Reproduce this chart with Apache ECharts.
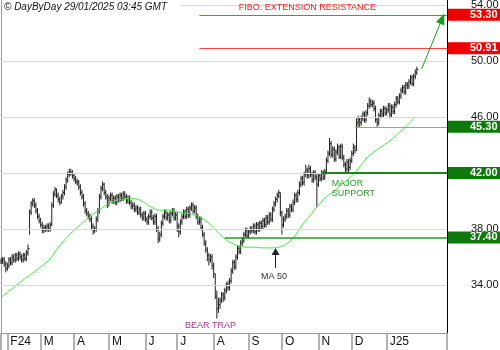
<!DOCTYPE html>
<html><head><meta charset="utf-8">
<script src="https://cdn.jsdelivr.net/npm/echarts@6/dist/echarts.min.js"></script>
<style>html,body{margin:0;padding:0;background:#fff}#c{width:500px;height:350px}</style>
</head><body><div id="c"></div>
<script>
// ---- data ----
const firstDay = '2024-01-26';
const lastDay = '2025-02-24';
const monthLabels = ['F24','M','A','M','J','J','A','S','O','N','D','J25'];
const yTicks = [34, 38, 42, 46, 50, 54];
const yMin = 30.57, yMax = 54.36;

const closes = [
35.7,35.8,35.5,35.2,35.4,35.8,35.6,36.0,35.8,36.1,
35.9,36.2,36.0,35.8,36.1,35.9,36.3,36.6,39.2,39.8,
40.0,39.7,39.3,38.9,38.6,38.3,37.9,38.1,38.0,38.2,
38.0,38.3,39.7,40.5,40.8,40.4,40.1,39.9,40.3,40.6,
41.0,41.5,41.9,42.1,42.0,41.8,41.6,41.4,41.3,41.0,
40.6,40.3,39.8,39.3,39.1,38.9,38.7,38.2,37.9,38.0,
38.7,39.3,40.3,40.9,41.2,40.6,40.3,39.8,40.2,40.4,
40.0,40.2,39.9,40.3,40.1,40.4,40.2,40.5,40.3,40.0,
40.2,39.9,39.6,39.7,39.4,39.5,39.2,39.4,39.0,38.8,
39.1,38.7,38.5,38.9,39.2,38.8,38.5,38.9,38.0,37.3,
37.6,38.4,38.9,39.2,38.8,39.0,38.6,39.1,39.3,38.8,
39.0,38.2,37.8,38.5,38.9,39.2,38.9,39.4,39.0,39.5,
39.7,39.3,39.5,38.9,38.5,38.7,38.1,37.6,37.0,36.5,
36.1,35.8,36.0,35.4,34.8,33.2,32.3,32.6,32.9,33.3,
33.1,33.6,34.0,33.8,34.3,35.0,35.6,35.3,36.0,36.6,
36.4,37.0,37.2,37.6,37.9,37.5,37.8,38.0,37.9,38.2,
37.8,38.3,38.0,38.4,38.2,38.6,38.3,38.8,38.5,39.0,
38.7,39.4,39.8,40.1,40.4,40.6,39.2,38.3,38.7,38.9,
39.3,39.0,39.6,39.4,39.9,40.4,40.1,40.6,41.2,41.6,
41.3,41.9,42.2,41.8,42.3,41.9,41.5,42.0,41.7,41.2,
41.8,41.6,42.0,41.7,42.1,42.9,43.4,44.1,43.3,43.7,
43.0,43.5,43.8,43.2,43.9,43.1,42.6,42.3,42.8,42.4,
42.9,43.4,43.8,43.6,45.6,45.8,45.6,45.9,46.2,45.8,
46.3,46.8,47.1,46.9,47.0,46.6,45.8,45.6,46.1,46.4,
46.2,46.6,46.3,46.5,46.8,46.2,46.7,46.4,46.9,47.3,
47.1,47.5,47.9,48.1,47.8,48.3,48.2,48.5,48.8,48.4,
48.9,49.2,49.4];

const highs = [
35.9,36.0,36.0,35.7,35.6,36.0,36.0,36.2,36.2,36.3,
36.3,36.4,36.4,36.2,36.3,36.3,36.5,36.9,39.4,40.0,
40.2,40.2,39.9,39.5,39.1,38.8,38.5,38.3,38.3,38.4,
38.4,38.5,39.9,40.7,41.0,40.9,40.6,40.3,40.5,40.8,
41.2,41.7,42.1,42.3,42.3,42.2,42.0,41.8,41.6,41.5,
41.2,40.8,40.5,40.0,39.5,39.3,39.1,38.9,38.4,38.2,
38.9,39.5,40.5,41.1,41.4,41.3,40.8,40.5,40.4,40.6,
40.6,40.4,40.4,40.5,40.5,40.6,40.6,40.7,40.7,40.5,
40.4,40.4,40.1,39.9,39.9,39.7,39.7,39.6,39.6,39.2,
39.3,39.3,38.9,39.1,39.4,39.4,39.0,39.1,39.1,38.2,
37.8,38.6,39.1,39.4,39.4,39.2,39.2,39.3,39.5,39.5,
39.2,39.2,38.4,38.7,39.1,39.4,39.4,39.6,39.6,39.7,
39.9,39.9,39.7,39.7,39.1,38.9,38.9,38.3,37.8,37.2,
36.7,36.3,36.2,36.2,35.6,34.8,33.6,33.1,33.1,33.5,
33.5,33.8,34.2,34.3,34.5,35.2,35.8,35.8,36.2,36.8,
36.8,37.2,37.4,37.8,38.1,38.1,38.0,38.2,38.2,38.4,
38.4,38.5,38.5,38.6,38.6,38.8,38.8,39.0,39.0,39.2,
39.2,39.6,40.0,40.3,40.6,40.8,40.6,39.3,38.9,39.1,
39.5,39.5,39.8,39.8,40.1,40.6,40.6,40.8,41.4,41.8,
41.8,42.1,42.6,42.4,42.6,42.5,42.1,42.2,42.2,41.9,
42.0,42.0,42.2,42.2,42.3,43.1,43.6,44.5,44.3,43.9,
43.9,43.7,44.1,44.0,44.1,44.1,43.3,42.8,43.0,43.0,
43.1,43.6,44.1,44.0,45.9,46.1,46.0,46.1,46.4,46.4,
46.5,47.0,47.4,47.3,47.2,47.2,46.8,46.0,46.3,46.6,
46.6,46.8,46.8,46.7,47.0,47.0,46.9,46.9,47.1,47.5,
47.5,47.7,48.1,48.3,48.3,48.5,48.5,48.7,49.0,49.0,
49.1,49.4,49.6];

const lows = [
35.5,35.5,35.3,34.9,35.0,35.2,35.4,35.4,35.6,35.6,
35.7,35.7,35.8,35.6,35.6,35.7,35.7,36.1,37.6,39.0,
39.6,39.5,39.1,38.7,38.4,38.1,37.7,37.7,37.8,37.8,
37.8,37.8,38.2,39.5,40.3,40.2,39.9,39.7,39.8,40.1,
40.4,40.8,41.3,41.7,41.8,41.6,41.4,41.2,41.1,40.8,
40.4,40.1,39.6,39.1,38.9,38.7,38.5,38.0,37.6,37.7,
37.8,38.5,39.1,40.1,40.7,40.4,40.1,39.5,39.6,40.0,
39.8,39.8,39.7,39.7,39.9,39.9,40.0,40.0,40.1,39.8,
39.8,39.7,39.4,39.4,39.2,39.2,39.0,39.0,38.8,38.6,
38.6,38.5,38.3,38.3,38.7,38.6,38.3,38.3,37.8,37.0,
37.1,37.4,38.2,38.7,38.6,38.6,38.4,38.4,38.9,38.6,
38.6,37.8,37.4,37.6,38.3,38.7,38.7,38.7,38.8,38.8,
39.3,39.1,39.1,38.7,38.3,38.3,37.9,37.4,36.8,36.3,
35.7,35.4,35.6,35.1,34.5,33.0,31.6,32.0,32.3,32.7,
32.8,32.9,33.4,33.6,33.6,34.1,34.8,35.1,35.1,35.8,
36.2,36.2,36.8,37.0,37.4,37.3,37.3,37.6,37.7,37.7,
37.6,37.6,37.8,37.8,38.0,38.0,38.1,38.1,38.3,38.3,
38.5,38.5,39.2,39.6,39.9,40.2,38.9,37.6,38.1,38.5,
38.7,38.8,38.8,39.2,39.2,39.7,39.9,39.9,40.4,41.0,
41.1,41.1,41.7,41.6,41.6,41.7,41.3,41.3,41.5,39.6,
41.0,41.4,41.4,41.5,41.5,41.9,42.7,43.2,43.1,43.1,
42.8,42.8,43.3,43.0,43.0,42.9,42.4,42.0,42.1,42.0,
42.2,42.7,43.2,43.4,43.6,45.3,45.3,45.4,45.7,45.6,
45.6,46.1,46.6,46.7,46.7,46.4,45.6,45.3,45.4,45.9,
46.0,46.0,46.1,46.1,46.3,45.9,46.0,46.2,46.2,46.7,
46.9,46.9,47.3,47.7,47.6,47.6,48.0,48.0,48.3,48.2,
48.2,48.7,49.0];

// 50-day moving average, read every 5th trading day
const maStep = 5;
const ma50 = [
33.1,33.55,34.0,34.45,34.85,35.3,35.75,36.5,37.2,37.8,
38.3,38.8,39.2,39.6,39.95,40.1,40.2,40.15,39.9,39.55,
39.35,39.35,39.25,39.15,39.05,38.85,38.5,37.95,37.4,37.0,
36.8,36.7,36.7,36.65,36.65,36.7,36.95,37.5,38.3,39.0,
39.7,40.3,40.7,41.2,41.7,42.3,43.0,43.5,43.9,44.3,
44.8,45.3,45.9];

const levelValues = [53.30, 50.91, 45.30, 42.00, 37.40];
const levelFrom = [125, 125, 223, 202, 141];

// ---- build ----
const cats = [];
{
  let t = Date.parse(firstDay + 'T00:00:00Z');
  const end = Date.parse(lastDay + 'T00:00:00Z');
  while (t <= end) {
    const d = new Date(t);
    const w = d.getUTCDay();
    if (w !== 0 && w !== 6) cats.push(d.toISOString().slice(0, 10));
    t += 86400000;
  }
}
const N = cats.length;
const isMonthStart = cats.map((c, i) => i > 0 && c.slice(0, 7) !== cats[i - 1].slice(0, 7));
const labelMap = {};
const tickOn = {};
{
  let k = 0;
  cats.forEach((c, i) => {
    if (isMonthStart[i] && k < monthLabels.length) { labelMap[c] = monthLabels[k++]; tickOn[i] = true; }
  });
  tickOn[0] = true; tickOn[N - 1] = true;
}

const barData = closes.map((c, i) => [i, highs[i], lows[i], c]);
const maData = ma50.map((v, k) => [k * maStep, v]);

const FONT = 'Liberation Sans';
const levelStyles = [
  { line: '#ff4040', width: 1, box: '#f00000' },
  { line: '#ff4040', width: 1, box: '#f00000' },
  { line: '#70bf70', width: 1, box: '#0b7a0b' },
  { line: '#148a14', width: 2, box: '#0b7a0b' },
  { line: '#2a962a', width: 1.5, box: '#0b7a0b' }
];

const levelSeries = levelValues.map((v, k) => ({
  type: 'line', data: [], z: 5, silent: true,
  markLine: {
    silent: true, symbol: ['none', 'none'],
    lineStyle: { color: levelStyles[k].line, width: levelStyles[k].width, type: 'solid' },
    label: {
      show: true, position: 'end', distance: 1, formatter: v.toFixed(2),
      color: '#fff', fontWeight: 'bold', fontSize: 11, fontFamily: FONT,
      backgroundColor: levelStyles[k].box, padding: [1, 3, 0, 22], lineHeight: 11
    },
    emphasis: { disabled: true },
    data: [[{ coord: [levelFrom[k], v] }, { coord: [N - 1, v] }]]
  }
}));

const noSym = { symbol: 'circle', symbolSize: 1, itemStyle: { color: 'rgba(0,0,0,0)' } };

const option = {
  animation: false,
  textStyle: { fontFamily: FONT },
  title: {
    text: '© DayByDay 29/01/2025 03:45 GMT', left: 3, top: 0,
    backgroundColor: '#fff', padding: [2, 14, 2, 1],
    textStyle: { fontSize: 10, fontStyle: 'italic', fontWeight: 'normal', color: '#111', fontFamily: FONT }
  },
  grid: { left: 1, right: 53, top: 0, bottom: 17, containLabel: false },
  xAxis: {
    type: 'category', data: cats, boundaryGap: false,
    axisLine: { show: true, lineStyle: { color: '#999', width: 1 } },
    axisTick: { show: true, interval: (i) => !!tickOn[i], length: 17, lineStyle: { color: '#999', width: 1.5 } },
    axisLabel: {
      interval: (i) => !!labelMap[cats[i]], formatter: (v) => labelMap[v] || '',
      align: 'left', padding: [0, 0, 0, 3], margin: 3, color: '#111', fontSize: 12, fontFamily: FONT
    },
    splitLine: { show: false }
  },
  yAxis: [
    { type: 'value', position: 'right', min: yMin, max: yMax,
      axisLine: { show: true, lineStyle: { color: '#000', width: 1 } },
      axisTick: { show: false }, axisLabel: { show: false }, splitLine: { show: false } },
    { type: 'value', position: 'left', min: yMin, max: yMax,
      axisLine: { show: true, lineStyle: { color: '#999', width: 1 } },
      axisTick: { show: false }, axisLabel: { show: false }, splitLine: { show: false } }
  ],
  series: [
    { type: 'line', data: [], z: 1, silent: true,
      markLine: {
        silent: true, symbol: ['none', 'none'],
        lineStyle: { color: '#d8d8d8', width: 1, type: 'solid' },
        label: { show: true, position: 'end', distance: 24, formatter: (p) => p.value.toFixed(2), color: '#111', fontSize: 11, fontFamily: FONT },
        emphasis: { disabled: true },
        data: yTicks.map(v => ({ yAxis: v }))
      } },
    { type: 'custom', z: 2, silent: true, data: barData, encode: { x: 0, y: [1, 2, 3] },
      renderItem: (params, api) => {
        const i = api.value(0);
        const pH = api.coord([i, api.value(1)]);
        const pL = api.coord([i, api.value(2)]);
        const pC = api.coord([i, api.value(3)]);
        return { type: 'group', children: [
          { type: 'line', shape: { x1: pH[0], y1: pH[1], x2: pL[0], y2: pL[1] }, style: { stroke: '#1e1e1e', lineWidth: 1 } },
          { type: 'line', shape: { x1: pC[0], y1: pC[1], x2: pC[0] + 1.6, y2: pC[1] }, style: { stroke: '#1e1e1e', lineWidth: 1 } }
        ] };
      } },
    { type: 'line', z: 3, silent: true, data: maData, smooth: true, symbol: 'none',
      lineStyle: { color: '#3ae83a', width: 1 } },
    ...levelSeries,
    { type: 'line', data: [], z: 6, silent: true,
      markLine: { silent: true, symbol: ['none', 'triangle'], symbolSize: [8, 7],
        lineStyle: { color: '#222', width: 1, type: 'solid' }, label: { show: false },
        emphasis: { disabled: true },
        data: [[{ coord: [173, 35.21] }, { coord: [173, 36.39] }]] } },
    { type: 'line', data: [], z: 6, silent: true,
      markLine: { silent: true, symbol: ['none', 'triangle'], symbolSize: [9, 11],
        lineStyle: { color: '#1c9a1c', width: 1, type: 'solid' }, itemStyle: { color: '#1c9a1c' }, label: { show: false },
        emphasis: { disabled: true },
        data: [[{ coord: [265, 49.43] }, { coord: [278, 53.03] }]] } },
    { type: 'line', data: [], z: 7, silent: true,
      markPoint: Object.assign({ silent: true, data: [
        { coord: [193, 53.79], label: { show: true, position: 'inside', formatter: 'FIBO. EXTENSION RESISTANCE', color: '#ee1c1c', fontSize: 9, fontFamily: FONT } },
        { coord: [208, 40.89], label: { show: true, position: 'right', distance: 0, align: 'left', formatter: 'MAJOR\nSUPPORT', color: '#2a9a2a', fontSize: 9, lineHeight: 10, fontFamily: FONT } },
        { coord: [172, 34.57], label: { show: true, position: 'inside', formatter: 'MA 50', color: '#333', fontSize: 9, fontFamily: FONT } },
        { coord: [132, 31.07], label: { show: true, position: 'inside', formatter: 'BEAR TRAP', color: '#933a93', fontSize: 9, fontFamily: FONT } }
      ] }, noSym) }
  ]
};

const chart = echarts.init(document.getElementById('c'), null, { renderer: 'canvas' });
chart.setOption(option);
</script>
</body></html>
